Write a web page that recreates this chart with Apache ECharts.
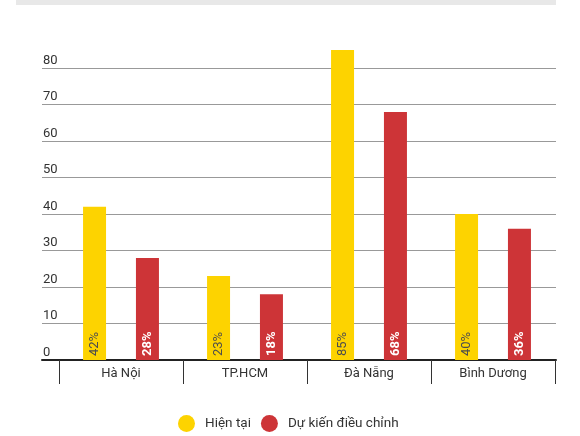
<!DOCTYPE html>
<html lang="vi">

<head>
    <meta charset="UTF-8">
    <title>Chart</title>
    <script src="https://cdn.jsdelivr.net/npm/echarts@6.0.0/dist/echarts.min.js"></script>
    <style>
        html, body { margin: 0; padding: 0; background: #fff; }
        #main { width: 580px; height: 436px; }
    </style>
</head>

<body>
    <div id="main"></div>
    <script>
        const categories = ['Hà Nội', 'TP.HCM', 'Đà Nẵng', 'Bình Dương'];
        const currentValues = [42, 23, 85, 40];
        const plannedValues = [28, 18, 68, 36];
        const seriesNames = ['Hiện tại', 'Dự kiến điều chỉnh'];
        const yMax = 85;

        const chart = echarts.init(document.getElementById('main'));
        const font = 'Roboto, "Noto Sans", sans-serif';

        const option = {
            textStyle: { fontFamily: font },
            animation: false,
            graphic: [{
                type: 'rect',
                shape: { x: 16, y: 0, width: 540, height: 5 },
                style: { fill: '#e8e8e8' }
            }],
            legend: {
                data: seriesNames,
                left: 173,
                top: 410,
                icon: 'circle',
                itemWidth: 17,
                itemHeight: 17,
                itemGap: 10,
                textStyle: { fontSize: 13.5, color: '#333', padding: [0, 0, 0, 5] }
            },
            grid: [
                // grid lines + y labels, wider
                { left: 42, right: 24, top: 50, bottom: 76 },
                // bars + categories
                { left: 59, right: 25, top: 50, bottom: 76 }
            ],
            xAxis: [
                {
                    gridIndex: 0, type: 'value', min: 0, max: 1,
                    axisLine: { show: true, lineStyle: { color: '#222', width: 2 } },
                    axisTick: { show: false },
                    axisLabel: { show: false },
                    splitLine: { show: false }
                },
                {
                    gridIndex: 1, type: 'category', data: categories,
                    axisLine: { show: false },
                    axisTick: { show: true, length: 24, lineStyle: { color: '#333', width: 1 } },
                    axisLabel: { margin: 7, fontSize: 13, color: '#333' }
                }
            ],
            yAxis: [
                {
                    gridIndex: 0, type: 'value', min: 0, max: yMax, interval: 10,
                    axisLine: { show: false },
                    axisTick: { show: false },
                    splitLine: { show: true, showMaxLine: false, lineStyle: { color: '#999', width: 1 } },
                    axisLabel: {
                        inside: true, margin: 1, align: 'left', verticalAlign: 'bottom',
                        padding: [0, 0, 1, 0], showMaxLabel: false,
                        fontSize: 13, color: '#333'
                    }
                },
                { gridIndex: 1, type: 'value', min: 0, max: yMax, show: false }
            ],
            series: [
                {
                    name: seriesNames[0], type: 'bar',
                    xAxisIndex: 1, yAxisIndex: 1,
                    data: currentValues,
                    barWidth: 23, barGap: '130%',
                    itemStyle: { color: '#FDD300' },
                    label: {
                        show: true, position: 'insideBottom', rotate: 90,
                        align: 'left', verticalAlign: 'middle', distance: 4,
                        formatter: '{c}%', fontSize: 13, color: '#4d4d4d', fontWeight: 'normal'
                    }
                },
                {
                    name: seriesNames[1], type: 'bar',
                    xAxisIndex: 1, yAxisIndex: 1,
                    data: plannedValues,
                    barWidth: 23,
                    itemStyle: { color: '#CD3437' },
                    label: {
                        show: true, position: 'insideBottom', rotate: 90,
                        align: 'left', verticalAlign: 'middle', distance: 4,
                        formatter: '{c}%', fontSize: 13, color: '#fff', fontWeight: 'bold'
                    }
                }
            ]
        };

        chart.setOption(option);
    </script>
</body>

</html>
